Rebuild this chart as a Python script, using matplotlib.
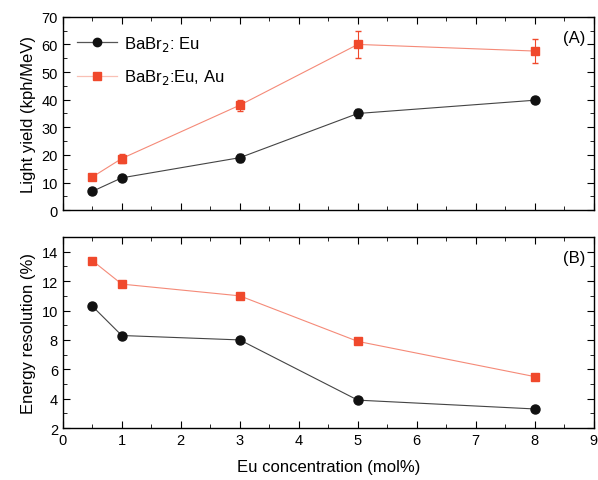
import numpy as np
import matplotlib.pyplot as plt
from matplotlib.ticker import MultipleLocator

plt.rcParams['font.family'] = ['Liberation Sans', 'DejaVu Sans']

# --- data ---
conc = [0.5, 1, 3, 5, 8]
ly_eu = [6.8, 11.7, 19.0, 35.0, 39.8]
ly_eu_err = [1.0, 1.0, 1.5, 1.8, 1.0]
ly_au = [12.0, 18.7, 38.0, 60.0, 57.6]
ly_au_err = [1.0, 1.5, 2.0, 5.0, 4.5]
res_eu = [10.3, 8.3, 8.0, 3.9, 3.3]
res_au = [13.4, 11.8, 11.0, 7.9, 5.5]

red = "#f0492c"
black = "#111111"

fig = plt.figure(figsize=(5.98, 4.81), dpi=100)
ax1 = fig.add_axes([0.105, 0.561, 0.888, 0.402])
ax2 = fig.add_axes([0.105, 0.108, 0.888, 0.397])

ax1.plot(conc, ly_eu, color="#444444", lw=0.8, zorder=1)
ax1.errorbar(conc, ly_eu, yerr=ly_eu_err, fmt="o", color=black, ms=6.5,
             ecolor=black, elinewidth=0.8, capsize=2.5, zorder=3)
ax1.plot(conc, ly_au, color="#f58a78", lw=0.8, zorder=1)
ax1.errorbar(conc, ly_au, yerr=ly_au_err, fmt="s", color=red, ms=6,
             ecolor=red, elinewidth=0.8, capsize=2.5, zorder=3)

# legend handles
h1, = ax1.plot([], [], "-o", color="#555555", mfc=black, mec=black, ms=6,
               lw=0.9, label=r"BaBr$_2$: Eu")
h2, = ax1.plot([], [], "-s", color="#f9c0b5", mfc=red, mec=red, ms=6, lw=0.9,
               label=r"BaBr$_2$:Eu, Au")
ax1.legend(handles=[h1, h2], loc="upper left", bbox_to_anchor=(0.027, 0.91),
           frameon=False, fontsize=12, handlelength=2.4, handletextpad=0.4,
           borderaxespad=0.0, borderpad=0.0, labelspacing=0.85)
ax1.text(0.985, 0.93, "(A)", transform=ax1.transAxes, ha="right", va="top",
         fontsize=12)

ax1.set_ylim(0, 70)
ax1.set_ylabel("Light yield (kph/MeV)", fontsize=12)
ax1.yaxis.set_major_locator(MultipleLocator(10))
ax1.yaxis.set_minor_locator(MultipleLocator(5))
ax1.tick_params(labelbottom=False)

ax2.plot(conc, res_eu, "-o", color="#444444", mfc=black, mec=black, ms=6.5,
         lw=0.8)
ax2.plot(conc, res_au, "-s", color="#f58a78", mfc=red, mec=red, ms=6, lw=0.8)
ax2.text(0.985, 0.93, "(B)", transform=ax2.transAxes, ha="right", va="top",
         fontsize=12)
ax2.set_ylim(2, 15)
ax2.set_ylabel("Energy resolution (%)", fontsize=12)
ax2.set_xlabel("Eu concentration (mol%)", fontsize=12, labelpad=9)
ax2.yaxis.set_major_locator(MultipleLocator(2))
ax2.yaxis.set_minor_locator(MultipleLocator(1))

for ax in (ax1, ax2):
    ax.set_xlim(0, 9)
    ax.xaxis.set_major_locator(MultipleLocator(1))
    ax.xaxis.set_minor_locator(MultipleLocator(0.5))
    ax.tick_params(which="both", direction="in", top=True, right=True,
                   labelsize=10.5)
    ax.tick_params(which="major", length=5)
    ax.tick_params(which="minor", length=3)
    for s in ax.spines.values():
        s.set_linewidth(1.0)

fig.savefig("out.png", dpi=100)
